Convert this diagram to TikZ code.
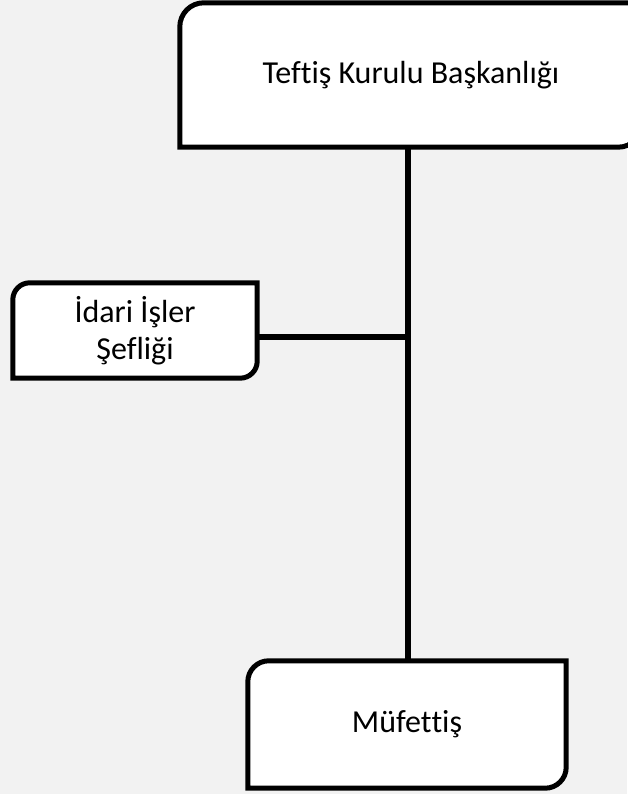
\documentclass[tikz,border=0pt]{standalone}
\usepackage{fontspec}
\setmainfont{Carlito}[Ligatures={NoCommon,NoContextual,NoRare,NoRequired},RawFeature={-liga;-clig;-calt;-dlig}]
\usetikzlibrary{calc}
\definecolor{bgc}{RGB}{242,242,242}
\pgfdeclarelayer{back}
\pgfdeclarelayer{bg}
\pgfsetlayers{back,bg,main}
\tikzset{
  boxtext/.style={rectangle, inner sep=0pt, align=center, font=\fontsize{32}{37}\selectfont},
  boxline/.style={draw=black, fill=white, line width=5pt},
  conn/.style={draw=black, line width=5.5pt},
}
\newcommand\dgbox[2]{%
  \path[boxline] ($(#1.north west)+(0pt,-#2pt)$) arc[start angle=180,end angle=90,radius=#2pt]
    -- (#1.north east) -- ($(#1.south east)+(0pt,#2pt)$)
    arc[start angle=0,end angle=-90,radius=#2pt] -- (#1.south west) -- cycle;}
\begin{document}
\begin{tikzpicture}[x=1pt,y=1pt]
\begin{pgfonlayer}{back}
  \fill[bgc] (0,0) rectangle (627,794);
\end{pgfonlayer}
\useasboundingbox (0,0) rectangle (627,794);
\node[boxtext, minimum width=462pt, minimum height=144pt] (top) at (411,719) {Tef\kern0pt t\kern0pt iş Kurulu Başkanlığı};
\node[boxtext, minimum width=244pt, minimum height=95pt] (left) at (135,463.5) {İdari İşler\\Şefliği};
\node[boxtext, minimum width=318pt, minimum height=127pt] (bot) at (407,69.5) {Müfet\kern0pt t\kern0pt iş};
\coordinate (j) at (408,457);
\begin{pgfonlayer}{bg}
  \dgbox{top}{24}
  \dgbox{left}{17}
  \dgbox{bot}{21}
  \draw[conn] (top.south -| j) -- (bot.north -| j);
  \draw[conn] (left.east |- j) -- (j);
\end{pgfonlayer}
\end{tikzpicture}
\end{document}
